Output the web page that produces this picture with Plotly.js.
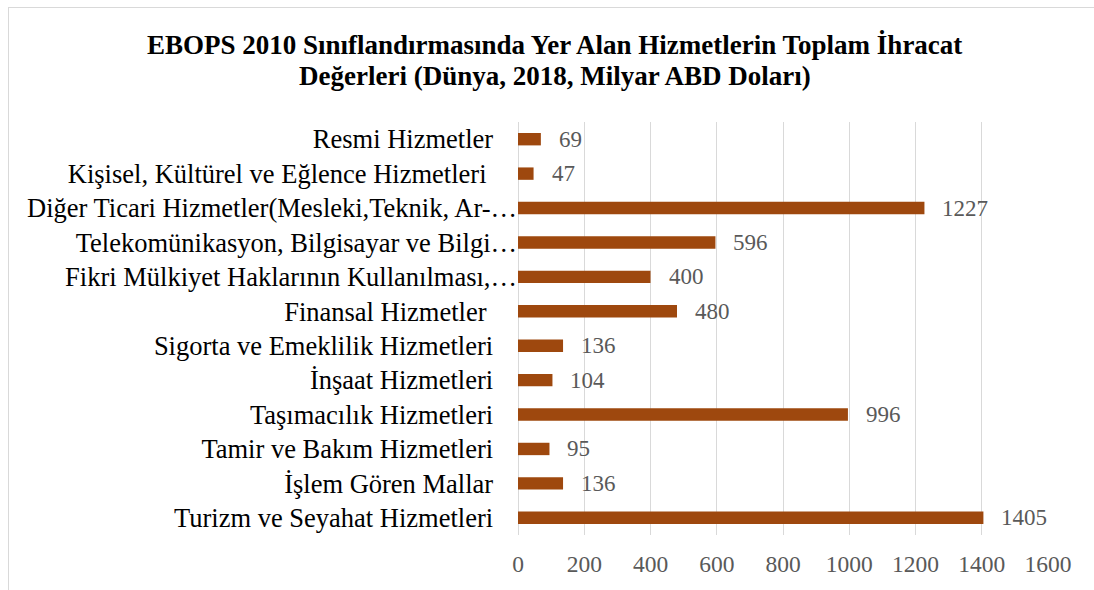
<!DOCTYPE html>
<html>
<head>
<meta charset="utf-8">
<script src="https://cdn.plot.ly/plotly-3.0.1.min.js"></script>
<style>
html,body{margin:0;padding:0;background:#fff;}
#frame{position:absolute;left:8px;top:7px;width:1200px;height:600px;border:1px solid #d9d9d9;box-sizing:border-box;}
#chart{position:absolute;left:0;top:0;width:1094px;height:590px;}
</style>
</head>
<body>
<div id="frame"></div>
<div id="chart"></div>
<script>
const categories = [
  "Turizm ve Seyahat Hizmetleri",
  "İşlem Gören Mallar",
  "Tamir ve Bakım Hizmetleri",
  "Taşımacılık Hizmetleri",
  "İnşaat Hizmetleri",
  "Sigorta ve Emeklilik Hizmetleri",
  "Finansal Hizmetler\u00a0",
  "Fikri Mülkiyet Haklarının Kullanılması,…",
  "Telekomünikasyon, Bilgisayar ve Bilgi…",
  "Diğer Ticari Hizmetler(Mesleki,Teknik, Ar-…",
  "Kişisel, Kültürel ve Eğlence Hizmetleri\u00a0",
  "Resmi Hizmetler"
];
const values = [1405, 136, 95, 996, 104, 136, 480, 400, 596, 1227, 47, 69];
const xTicks = [0, 200, 400, 600, 800, 1000, 1200, 1400, 1600];
const titleLines = [
  "EBOPS 2010 Sınıflandırmasında Yer Alan Hizmetlerin Toplam İhracat",
  "Değerleri (Dünya, 2018, Milyar ABD Doları)"
];

const SERIF = 'Liberation Serif, Times New Roman, serif';
// truncated labels run up to the axis; the rest keep a gap
const PAD = '\u2002\u2009\u2009';
const yTickText = categories.map(c => c.endsWith('…') ? c : c + PAD);

const trace = {
  type: 'bar',
  orientation: 'h',
  y: categories,
  x: values,
  marker: {color: '#9E480E'},
  hoverinfo: 'none'
};

const annotations = values.map((v, i) => ({
  x: v, y: categories[i], xref: 'x', yref: 'y',
  text: String(v), showarrow: false, xanchor: 'left', xshift: 16,
  font: {family: SERIF, size: 23, color: '#595959'}
}));

// title lines (plot area: x 518..1048, y 122..535)
const titleY = [45, 76];
titleLines.forEach((t, i) => {
  annotations.push({
    x: (554.5 - 518) / 530, y: (535 - titleY[i]) / 413,
    xref: 'paper', yref: 'paper', xanchor: 'center', yanchor: 'middle',
    text: '<b>' + t + '</b>', showarrow: false,
    font: {family: SERIF, size: 27, color: '#000'}
  });
});

const layout = {
  width: 1094, height: 590,
  paper_bgcolor: 'rgba(0,0,0,0)', plot_bgcolor: 'rgba(0,0,0,0)',
  margin: {l: 518, r: 46, t: 122, b: 55},
  bargap: 0.64,
  showlegend: false,
  xaxis: {
    range: [0, 1600], tickvals: xTicks, ticktext: xTicks.map(String),
    showgrid: true, gridcolor: '#d9d9d9', gridwidth: 1,
    zeroline: true, zerolinecolor: '#d9d9d9', zerolinewidth: 1,
    showline: false,
    ticks: 'outside', ticklen: 8, tickcolor: 'rgba(0,0,0,0)',
    tickfont: {family: SERIF, size: 23.5, color: '#595959'},
    fixedrange: true
  },
  yaxis: {
    type: 'category', categoryorder: 'array', categoryarray: categories,
    tickvals: categories, ticktext: yTickText,
    showgrid: false, zeroline: false, showline: false,
    ticks: '',
    tickfont: {family: SERIF, size: 26.5, color: '#000'},
    fixedrange: true
  },
  annotations: annotations
};

Plotly.newPlot('chart', [trace], layout, {displayModeBar: false, staticPlot: true});
</script>
</body>
</html>
